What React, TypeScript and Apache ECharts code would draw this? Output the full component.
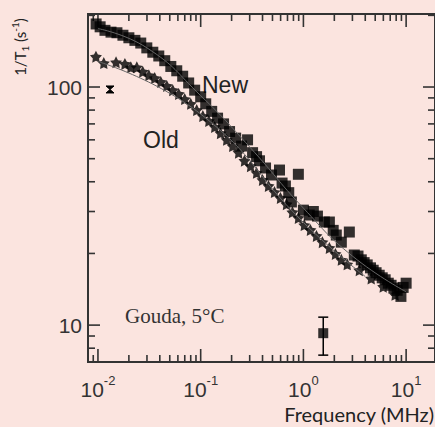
import React, { useEffect, useRef } from 'react';
import * as echarts from 'echarts';

// ---- data ----
const newFreq = [0.0096, 0.0105, 0.0117, 0.0134, 0.0153, 0.0175, 0.02, 0.0229, 0.0261, 0.0299, 0.0342, 0.0391, 0.0447, 0.0512, 0.0585, 0.0668, 0.0764, 0.0874, 0.1, 0.112, 0.128, 0.146, 0.167, 0.191, 0.219, 0.25, 0.286, 0.32, 0.35, 0.374, 0.428, 0.489, 0.585, 0.62, 0.668, 0.72, 0.764, 0.893, 1.0, 1.14, 1.25, 1.37, 1.6, 1.79, 1.95, 2.09, 2.34, 2.8, 3.13, 3.4, 3.66, 3.9, 4.18, 4.5, 4.78, 5.1, 5.47, 5.85, 6.25, 6.7, 7.14, 7.6, 8.18, 8.9, 9.35, 10.0];
const newRate = [184, 179, 173, 170, 169, 165, 161, 157, 153, 146, 140, 135, 129, 122, 117, 111, 104, 97, 91, 85, 79, 74, 70, 65, 61, 56.5, 60, 53, 51, 49, 45.7, 42.7, 44.8, 39.5, 38.4, 36, 32.9, 43, 30.4, 29, 30, 28.7, 27.1, 27.1, 25, 23.9, 22.3, 24.6, 19.7, 19.5, 18.8, 18.3, 17.9, 17.4, 17.0, 16.6, 16.2, 15.8, 15.5, 15.0, 14.7, 14.3, 14.0, 13.2, 14.4, 15.0];

const oldFreq = [0.00956, 0.0114, 0.015, 0.0183, 0.0209, 0.0239, 0.0273, 0.0313, 0.0357, 0.0409, 0.0468, 0.0535, 0.0611, 0.0699, 0.08, 0.0915, 0.105, 0.12, 0.137, 0.156, 0.179, 0.205, 0.234, 0.267, 0.306, 0.35, 0.4, 0.457, 0.523, 0.598, 0.684, 0.782, 0.894, 1.02, 1.17, 1.34, 1.53, 1.79, 2.05, 2.34, 2.67, 3.5, 4.57, 5.98, 7.81];
const oldRate = [134, 126, 127, 125, 121, 121, 116, 112, 109, 105, 101, 97, 93.5, 89, 85, 80, 75.5, 72, 68, 64, 60, 56.5, 53, 49, 46.5, 43.6, 40.7, 38.4, 36.2, 34.2, 32.2, 29.8, 28.2, 26.3, 25.1, 23.7, 22.3, 21.1, 19.9, 18.8, 18.0, 17.0, 15.7, 14.5, 13.4];

const newFitFreq = [0.01, 0.03, 0.1, 0.3, 1, 3, 10];
const newFitRate = [176, 146, 92, 56, 31, 19.5, 13.8];
const oldFitFreq = [0.01, 0.1, 1, 4];
const oldFitRate = [128, 77, 27, 16];

// error bars: [freq, mid, low, high]
const errFreq = [1.56];
const errMid = [9.25];
const errLow = [7.48];
const errHigh = [10.8];
const oldErrFreq = [0.0131];
const oldErrLow = [94.4];
const oldErrHigh = [101];

const xMin = 0.008;
const xMax = 19.1;
const yMin = 7.0;
const yMax = 202.6;
const decades = [-3, -2, -1, 0, 1, 2, 3];

const labelCol = '#333';
const ink = '#000';

function buildTicks(lo: number, hi: number) {
  const out: number[][] = [];
  decades.forEach((k) => {
    for (let m = 1; m <= 9; m++) {
      const v = m * Math.pow(10, k);
      if (v > lo * 1.0001 && v < hi * 0.9999) out.push([v, m === 1 ? 1 : 0]);
    }
  });
  return out;
}

function isPow10(v: number) {
  const l = Math.log10(v);
  return Math.abs(l - Math.round(l)) < 1e-6;
}

export default function App() {
  const ref = useRef<HTMLDivElement>(null);
  useEffect(() => {
    document.body.style.margin = '0';
    const chart = echarts.init(ref.current!, undefined, { renderer: 'svg' });
    const xTicks = buildTicks(xMin, xMax).map((t) => [t[0], yMin, t[1]]);
    const yTicks = buildTicks(yMin, yMax).map((t) => [xMin, t[0], t[1]]);
    const starPath = 'path://M5,0 L6.53,2.9 L9.76,3.45 L7.47,5.8 L7.94,9.05 L5,7.6 L2.06,9.05 L2.53,5.8 L0.24,3.45 L3.47,2.9 Z';

    chart.setOption({
      animation: false,
      backgroundColor: '#fbe4df',
      grid: {
        left: 88, top: 14, width: 348, height: 348,
        show: true, borderColor: '#333', borderWidth: 2, backgroundColor: 'transparent',
      },
      xAxis: {
        type: 'log', logBase: 10, min: xMin, max: xMax,
        axisLine: { show: false }, axisTick: { show: false }, splitLine: { show: false },
        axisLabel: {
          margin: 12,
          showMinLabel: false, showMaxLabel: false,
          formatter: (v: number) => (isPow10(v) ? `{b|10}{s|${Math.round(Math.log10(v))}}` : ''),
          rich: {
            b: { fontSize: 21, fontFamily: 'Liberation Sans, Arial', color: labelCol, lineHeight: 26, verticalAlign: 'bottom' },
            s: { fontSize: 13, fontFamily: 'Liberation Sans, Arial', color: labelCol, lineHeight: 26, verticalAlign: 'top' },
          },
        },
      },
      yAxis: {
        type: 'log', logBase: 10, min: yMin, max: yMax,
        axisLine: { show: false }, axisTick: { show: false }, splitLine: { show: false },
        axisLabel: {
          margin: 6,
          showMinLabel: false, showMaxLabel: false,
          fontSize: 21, fontFamily: 'Liberation Sans, Arial', color: labelCol,
          formatter: (v: number) => (isPow10(v) ? String(Math.round(v)) : ''),
        },
      },
      graphic: [
        {
          type: 'text', x: 20, y: 47, rotation: Math.PI / 2,
          style: {
            text: '{a|1/T}{s|1}{a| (s}{p|-1}{a|)}',
            align: 'center', verticalAlign: 'middle',
            rich: {
              a: { fontSize: 15, fontFamily: 'Lato', fill: '#222', lineHeight: 20 },
              s: { fontSize: 10, fontFamily: 'Lato', fill: '#222', lineHeight: 20, verticalAlign: 'bottom' },
              p: { fontSize: 10, fontFamily: 'Lato', fill: '#222', lineHeight: 20, verticalAlign: 'top' },
            },
          },
        },
        {
          type: 'text', x: 434, y: 414,
          style: { text: 'Frequency (MHz)', align: 'right', verticalAlign: 'middle', fontSize: 20, fontFamily: 'Lato', fill: '#222' },
        },
        {
          type: 'text', x: 125, y: 316,
          style: { text: 'Gouda, 5°C', align: 'left', verticalAlign: 'middle', fontSize: 21, fontFamily: 'Liberation Serif, Times New Roman', fill: '#333' },
        },
        {
          type: 'text', x: 202, y: 85,
          style: { text: 'New', align: 'left', verticalAlign: 'middle', fontSize: 23, fontFamily: 'Liberation Sans, Arial', fill: '#222' },
        },
        {
          type: 'text', x: 143, y: 140,
          style: { text: 'Old', align: 'left', verticalAlign: 'middle', fontSize: 23, fontFamily: 'Liberation Sans, Arial', fill: '#222' },
        },
      ],
      series: [
        {
          type: 'custom', name: 'xticks', z: 1, silent: true,
          data: xTicks, encode: { x: 0, y: 1 },
          renderItem: (params: any, api: any) => {
            const cs = params.coordSys;
            const p = api.coord([api.value(0), yMin]);
            const len = api.value(2) ? 13 : 7;
            const st = { stroke: '#333', lineWidth: 1.6 };
            return {
              type: 'group',
              children: [
                { type: 'line', shape: { x1: p[0], y1: cs.y + cs.height, x2: p[0], y2: cs.y + cs.height - len }, style: st },
                { type: 'line', shape: { x1: p[0], y1: cs.y, x2: p[0], y2: cs.y + len }, style: st },
              ],
            };
          },
        },
        {
          type: 'custom', name: 'yticks', z: 1, silent: true,
          data: yTicks, encode: { x: 0, y: 1 },
          renderItem: (params: any, api: any) => {
            const cs = params.coordSys;
            const p = api.coord([xMin, api.value(1)]);
            const len = api.value(2) ? 12 : 7;
            const st = { stroke: '#333', lineWidth: 1.6 };
            return {
              type: 'group',
              children: [
                { type: 'line', shape: { x1: cs.x, y1: p[1], x2: cs.x + len, y2: p[1] }, style: st },
                { type: 'line', shape: { x1: cs.x + cs.width, y1: p[1], x2: cs.x + cs.width - len, y2: p[1] }, style: st },
              ],
            };
          },
        },
        {
          type: 'scatter', name: 'New', z: 3,
          data: newFreq.map((f, i) => [f, newRate[i]]),
          symbol: 'rect', symbolSize: 11,
          itemStyle: { color: ink },
        },
        {
          type: 'scatter', name: 'Old', z: 3,
          data: oldFreq.map((f, i) => [f, oldRate[i]]),
          symbol: starPath, symbolSize: 12,
          itemStyle: { color: ink },
        },
        {
          type: 'line', name: 'New fit', z: 4, smooth: true, symbol: 'none',
          data: newFitFreq.map((f, i) => [f, newFitRate[i]]),
          lineStyle: { color: '#666', width: 1 },
        },
        {
          type: 'line', name: 'Old fit', z: 4, smooth: true, symbol: 'none',
          data: oldFitFreq.map((f, i) => [f, oldFitRate[i]]),
          lineStyle: { color: '#666', width: 1 },
        },
        {
          type: 'scatter', name: 'Error point', z: 3,
          data: errFreq.map((f, i) => [f, errMid[i]]),
          symbol: 'rect', symbolSize: 10,
          itemStyle: { color: ink },
        },
        {
          type: 'custom', name: 'errbar', z: 3,
          data: errFreq.map((f, i) => [f, errLow[i], errHigh[i]]),
          encode: { x: 0, y: [1, 2] },
          renderItem: (params: any, api: any) => {
            const lo = api.coord([api.value(0), api.value(1)]);
            const hi = api.coord([api.value(0), api.value(2)]);
            const st = { stroke: ink, lineWidth: 1.5 };
            return {
              type: 'group',
              children: [
                { type: 'line', shape: { x1: lo[0], y1: lo[1], x2: hi[0], y2: hi[1] }, style: st },
                { type: 'line', shape: { x1: lo[0] - 5, y1: lo[1], x2: lo[0] + 5, y2: lo[1] }, style: st },
                { type: 'line', shape: { x1: hi[0] - 5, y1: hi[1], x2: hi[0] + 5, y2: hi[1] }, style: st },
              ],
            };
          },
        },
        {
          type: 'custom', name: 'olderr', z: 3,
          data: oldErrFreq.map((f, i) => [f, oldErrLow[i], oldErrHigh[i]]),
          encode: { x: 0, y: [1, 2] },
          renderItem: (params: any, api: any) => {
            const lo = api.coord([api.value(0), api.value(1)]);
            const hi = api.coord([api.value(0), api.value(2)]);
            return {
              type: 'polygon',
              shape: { points: [[hi[0] - 4, hi[1]], [hi[0] + 4, hi[1]], [lo[0] - 4, lo[1]], [lo[0] + 4, lo[1]]] },
              style: { fill: ink, stroke: ink, lineWidth: 1 },
            };
          },
        },
      ],
    });
    return () => chart.dispose();
  }, []);
  return <div ref={ref} style={{ position: 'fixed', left: 0, top: 0, width: 435, height: 427 }} />;
}
